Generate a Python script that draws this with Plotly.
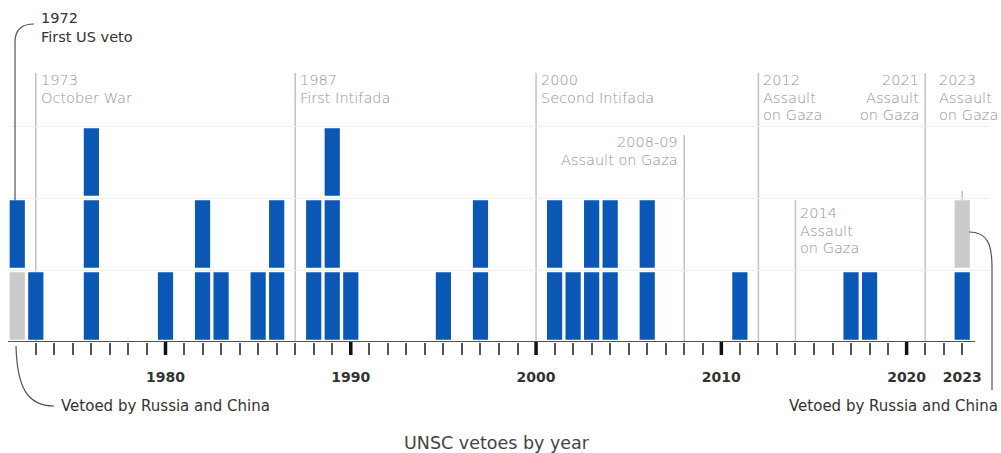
import plotly.graph_objects as go

# ---- data ----
years = [1972, 1973, 1976, 1980, 1982, 1983, 1985, 1986, 1988, 1989, 1990,
         1995, 1997, 2001, 2002, 2003, 2004, 2006, 2011, 2017, 2018, 2023]
us_vetoes = [1, 1, 3, 1, 2, 1, 1, 2, 2, 3, 1,
             1, 2, 2, 1, 2, 2, 2, 1, 1, 1, 1]
rc_years = [1972, 2023]          # vetoed by Russia and China
rc_counts = [1, 1]
rc_position = ["bottom", "top"]  # stacking position of the grey unit

tick_label_years = [1980, 1990, 2000, 2010, 2020, 2023]
decade_years = [1980, 1990, 2000, 2010, 2020]

event_years = [1973, 1987, 2000, 2008, 2012, 2014, 2021, 2023]
event_labels = [["1973", "October War"], ["1987", "First Intifada"],
                ["2000", "Second Intifada"], ["2008-09", "Assault on Gaza"],
                ["2012", "Assault", "on Gaza"], ["2014", "Assault", "on Gaza"],
                ["2021", "Assault", "on Gaza"], ["2023", "Assault", "on Gaza"]]

BLUE = "#0b57b5"
GREY_BAR = "#cbcbcb"
EVENT = "#c2c2c2"
EVENT_TXT = "#939393"
DARK = "#333333"
FONT = "DejaVu Sans"

# ---- layout geometry ----
W, H = 1001, 453
ML, MR, MT, MB = 8, 11, 0, 111
PW, PH = W - ML - MR, H - MT - MB
UNIT = 72.0                      # px per veto
YMAX = PH / UNIT
LINE_H = 17.7


def P(px, py):
    """pixel -> paper coords"""
    return (px - ML) / PW, (H - MB - py) / PH


def Y(py):
    return (H - MB - py) / UNIT


# ---- build stacked units ----
us_x, us_base, rc_x, rc_base = [], [], [], []
rc_map = {y: (c, p) for y, c, p in zip(rc_years, rc_counts, rc_position)}
for yr, c in zip(years, us_vetoes):
    lvl = 0
    rc = rc_map.get(yr)
    if rc and rc[1] == "bottom":
        for _ in range(rc[0]):
            rc_x.append(yr); rc_base.append(lvl); lvl += 1
    for _ in range(c):
        us_x.append(yr); us_base.append(lvl); lvl += 1
    if rc and rc[1] == "top":
        for _ in range(rc[0]):
            rc_x.append(yr); rc_base.append(lvl); lvl += 1

GAP = 0.03
fig = go.Figure()
fig.add_trace(go.Bar(x=us_x, y=[1 - 2 * GAP] * len(us_x),
                     base=[b + GAP for b in us_base], width=0.82,
                     marker=dict(color=BLUE, line=dict(width=0)),
                     showlegend=False, hoverinfo="x"))
fig.add_trace(go.Bar(x=rc_x, y=[1 - 2 * GAP] * len(rc_x),
                     base=[b + GAP for b in rc_base], width=0.82,
                     marker=dict(color=GREY_BAR, line=dict(width=0)),
                     showlegend=False, hoverinfo="x"))

shapes = []
annotations = []

# axis line
shapes.append(dict(type="line", xref="x", yref="y", x0=1971.5, x1=2023.7,
                   y0=0, y1=0, line=dict(color="#555555", width=2), layer="above"))
# bold decade ticks
for d in decade_years:
    shapes.append(dict(type="line", xref="x", yref="paper", x0=d, x1=d,
                       y0=0, y1=-13 / PH, line=dict(color="#111111", width=3.5)))

# event lines and labels
line_tops = [73, 73, 73, 135, 73, 200, 73, 191]
line_bottoms = [342, 342, 342, 342, 342, 342, 342, 200]
label_first = [80, 80, 80, 142, 80, 213, 80, 80]   # centre of first text line
label_align = ["left", "left", "left", "right", "left", "left", "right", "left"]
label_shift = [3, 3, 3, -4, 3, 3, -4, -25]
for yr, lab, lt, lb, tt, al, sh in zip(event_years, event_labels, line_tops,
                                       line_bottoms, label_first, label_align, label_shift):
    shapes.append(dict(type="line", xref="x", yref="y", x0=yr, x1=yr,
                       y0=Y(lb), y1=Y(lt), line=dict(color=EVENT, width=1.5),
                       layer="below"))
    for i, ln in enumerate(lab):
        annotations.append(dict(x=yr, y=Y(tt + i * LINE_H), xref="x", yref="y",
                                text=ln, showarrow=False, xanchor=al,
                                yanchor="middle", xshift=sh,
                                font=dict(family=FONT, size=14.5, color=EVENT_TXT,
                                          weight=300)))

# first US veto label and leader
for i, ln in enumerate(["1972", "First US veto"]):
    xa, ya = P(39, 18 + i * 19)
    annotations.append(dict(x=xa, y=ya, xref="paper", yref="paper",
                            text=ln, showarrow=False,
                            xanchor="left", yanchor="middle",
                            font=dict(family=FONT, size=14.5, color=DARK)))


def path(points_cmds):
    out = []
    for cmd, pts in points_cmds:
        coords = " ".join("%.5f,%.5f" % P(*p) for p in pts)
        out.append(cmd + " " + coords)
    return " ".join(out)


LEADER = dict(color="#555555", width=1.2)
shapes.append(dict(type="path", xref="paper", yref="paper",
                   path=path([("M", [(34, 24)]), ("Q", [(15, 24), (15, 42)]),
                              ("L", [(15, 200)])]), line=LEADER))
# bottom-left leader
shapes.append(dict(type="path", xref="paper", yref="paper",
                   path=path([("M", [(16, 346)]),
                              ("C", [(17, 385), (26, 406), (54, 406)])]),
                   line=LEADER))
# bottom-right leader
shapes.append(dict(type="path", xref="paper", yref="paper",
                   path=path([("M", [(969, 232)]),
                              ("C", [(988, 232), (992, 245), (992, 268)]),
                              ("L", [(992, 390)])]), line=LEADER))

xa, ya = P(59, 406)
annotations.append(dict(x=xa, y=ya, xref="paper", yref="paper",
                        text="Vetoed by Russia and China", showarrow=False,
                        xanchor="left", yanchor="middle",
                        font=dict(family=FONT, size=15, color=DARK)))
xa, ya = P(1000, 406)
annotations.append(dict(x=xa, y=ya, xref="paper", yref="paper",
                        text="Vetoed by Russia and China", showarrow=False,
                        xanchor="right", yanchor="middle",
                        font=dict(family=FONT, size=15, color=DARK)))
xa, ya = P(497, 443)
annotations.append(dict(x=xa, y=ya, xref="paper", yref="paper",
                        text="UNSC vetoes by year", showarrow=False,
                        xanchor="center", yanchor="middle",
                        font=dict(family=FONT, size=17.5, color="#444444")))

all_ticks = list(range(1973, 2024))
tick_text = [str(t) if t in tick_label_years else "" for t in all_ticks]

fig.update_layout(
    width=W, height=H,
    margin=dict(l=ML, r=MR, t=MT, b=MB, pad=0),
    paper_bgcolor="white", plot_bgcolor="white",
    barmode="overlay",
    xaxis=dict(range=[1971.5, 2024.5], showgrid=False, zeroline=False,
               showline=False, tickmode="array", tickvals=all_ticks,
               ticktext=tick_text, ticks="outside", ticklen=12,
               tickwidth=1.5, tickcolor="#555555", ticklabelstandoff=10,
               tickfont=dict(family=FONT, size=14, color=DARK, weight=600),
               fixedrange=True),
    yaxis=dict(range=[0, YMAX], showgrid=True, gridcolor="#eeeeee",
               gridwidth=1, tickmode="array", tickvals=[1, 2, 3],
               showticklabels=False, zeroline=False, showline=False,
               fixedrange=True),
    shapes=shapes,
    annotations=annotations,
    showlegend=False,
)

fig.write_html("out.html", config={"displayModeBar": False},
               post_script="document.body.style.margin='0';"
                           "document.body.style.overflow='hidden';")
